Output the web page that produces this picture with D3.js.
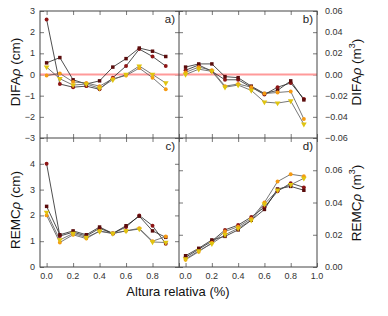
<!DOCTYPE html>
<html>
<head>
<meta charset="UTF-8">
<title></title>
<script src="https://cdn.jsdelivr.net/npm/d3@7"></script>
<style>
    body{margin:0;background:#fff;}
    text{font-family:"Liberation Sans",Arial,sans-serif;}
</style>
</head>
<body>
<div id="chart"></div>
<script>
    // altura relativa
    var alturas=[0,0.1,0.2,0.3,0.4,0.5,0.6,0.7,0.8,0.9];
    var colores=['#8e1616','#5a0c0c','#f59a12','#e0c410'];

    // a) DIFA (cm)
    var difaCm=[
        [2.6,-0.45,-0.6,-0.55,-0.7,-0.15,0.4,1.2,0.85,0.4],
        [0.55,0.8,-0.25,-0.45,-0.3,0.35,0.75,1.25,1.1,0.85],
        [-0.05,0.05,-0.35,-0.4,-0.55,-0.2,-0.05,0.3,-0.15,-0.7],
        [0.35,-0.2,-0.5,-0.45,-0.65,-0.25,0.0,0.4,0.0,-0.4]
    ];
    // b) DIFA (m3)
    var difaM3=[
        [0.004,0.009,0.003,-0.005,-0.005,-0.012,-0.019,-0.012,-0.008,-0.023],
        [0.007,0.010,0.010,-0.002,-0.003,-0.011,-0.018,-0.015,-0.006,-0.024],
        [0.002,0.007,0.004,-0.011,-0.009,-0.012,-0.018,-0.017,-0.016,-0.042],
        [0.0,0.005,0.003,-0.012,-0.010,-0.015,-0.026,-0.027,-0.025,-0.047]
    ];
    // c) REMC (cm)
    var remcCm=[
        [4.0,1.2,1.35,1.2,1.5,1.3,1.55,2.0,1.6,0.9],
        [2.35,1.25,1.4,1.25,1.55,1.3,1.6,1.97,1.4,1.15],
        [2.0,0.95,1.25,1.1,1.4,1.3,1.4,1.5,1.0,1.18],
        [2.12,1.05,1.3,1.15,1.38,1.3,1.4,1.47,0.97,0.95]
    ];
    // d) REMC (m3)
    var remcM3=[
        [0.006,0.011,0.016,0.023,0.026,0.031,0.037,0.047,0.052,0.0494],
        [0.007,0.0116,0.0168,0.019,0.023,0.029,0.0357,0.0484,0.050,0.0476],
        [0.0045,0.0095,0.015,0.022,0.025,0.030,0.040,0.053,0.0575,0.0563],
        [0.005,0.010,0.0145,0.020,0.024,0.029,0.039,0.0476,0.051,0.055]
    ];

    var yTicksA=[-3,-2,-1,0,1,2,3];
    var yTicksB=[-0.06,-0.04,-0.02,0,0.02,0.04,0.06];
    var yTicksC=[0,1,2,3,4];
    var yTicksD=[0,0.02,0.04,0.06];
    var xTicksIzq=[0,0.2,0.4,0.6,0.8];
    var xTicksDer=[0,0.2,0.4,0.6,0.8,1.0];

    var svg=d3.select('#chart').append('svg')
            .attr('width',388).attr('height',316);

    var colX=[[40,179],[179,317]];
    var filaY=[[11,138],[138,267]];

    var paneles=[
        {datos:difaCm,dom:[-3,3],ticks:yTicksA,fmt:d3.format('d'),col:0,fila:0,lado:'izq',etiqueta:'a)',cero:true},
        {datos:difaM3,dom:[-0.06,0.06],ticks:yTicksB,fmt:d3.format('.2f'),col:1,fila:0,lado:'der',etiqueta:'b)',cero:true},
        {datos:remcCm,dom:[0,5],ticks:yTicksC,fmt:d3.format('d'),col:0,fila:1,lado:'izq',etiqueta:'c)',cero:false},
        {datos:remcM3,dom:[0,0.08],ticks:yTicksD,fmt:d3.format('.2f'),col:1,fila:1,lado:'der',etiqueta:'d)',cero:false}
    ];

    paneles.forEach(function(p){
        var x0=colX[p.col][0],x1=colX[p.col][1];
        var y0=filaY[p.fila][0],y1=filaY[p.fila][1];
        var x=d3.scaleLinear().domain([-0.05,1.0]).range([x0,x1]);
        var y=d3.scaleLinear().domain(p.dom).range([y1,y0]);
        var g=svg.append('g');

        // ticks hacia dentro en los cuatro lados
        var tx=p.col==0?xTicksIzq.concat([1.0]):xTicksDer;
        var ejeL=d3.axisLeft(y).tickValues(p.ticks).tickSize(-4).tickFormat('');
        var ejeR=d3.axisRight(y).tickValues(p.ticks).tickSize(-4).tickFormat('');
        var ejeT=d3.axisTop(x).tickValues(tx).tickSize(-4).tickFormat('');
        var ejeB=d3.axisBottom(x).tickValues(tx).tickSize(-4).tickFormat('');
        g.append('g').attr('transform','translate('+x0+',0)').call(ejeL);
        g.append('g').attr('transform','translate('+x1+',0)').call(ejeR);
        g.append('g').attr('transform','translate(0,'+y0+')').call(ejeT);
        g.append('g').attr('transform','translate(0,'+y1+')').call(ejeB);
        g.selectAll('.domain').remove();
        g.selectAll('.tick line').attr('stroke','#555').attr('stroke-width',0.8);

        // etiquetas del eje y
        var lab=g.append('g').attr('font-size',9).attr('fill','#333');
        lab.selectAll('text').data(p.ticks).enter().append('text')
                .attr('x',p.lado=='izq'?x0-5:x1+8)
                .attr('y',function(d){return y(d)+3;})
                .attr('text-anchor',p.lado=='izq'?'end':'start')
                .text(function(d){return p.fmt(d);});

        // etiquetas del eje x (solo fila inferior)
        if(p.fila==1){
            var xt=p.col==0?xTicksIzq:xTicksDer;
            lab.selectAll('text.xt').data(xt).enter().append('text')
                    .attr('class','xt')
                    .attr('x',function(d){return x(d);})
                    .attr('y',y1+12)
                    .attr('text-anchor','middle')
                    .text(function(d){return d3.format('.1f')(d);});
        }

        if(p.cero){
            g.append('line')
                    .attr('x1',x0).attr('x2',x1)
                    .attr('y1',y(0)).attr('y2',y(0))
                    .attr('stroke','#ff9a9a').attr('stroke-width',2);
        }

        var linea=d3.line()
                .x(function(d,i){return x(alturas[i]);})
                .y(function(d){return y(d);});

        p.datos.forEach(function(serie,k){
            g.append('path')
                    .attr('d',linea(serie))
                    .attr('fill','none')
                    .attr('stroke',k>=2?'#555':'#222')
                    .attr('stroke-width',0.8);
        });
        var simbolos=[d3.symbolCircle,d3.symbolSquare,d3.symbolCircle,d3.symbolTriangle];
        p.datos.forEach(function(serie,k){
            g.selectAll('path.m'+k).data(serie).enter().append('path')
                    .attr('class','m'+k)
                    .attr('d',d3.symbol().type(simbolos[k]).size(k==3?14:12))
                    .attr('transform',function(d,i){
                        return 'translate('+x(alturas[i])+','+y(d)+')'+(k==3?' rotate(180)':'');
                    })
                    .attr('fill',colores[k]);
        });

        g.append('text')
                .attr('x',x1-4).attr('y',y0+12)
                .attr('text-anchor','end')
                .attr('font-size',11.5)
                .attr('fill','#222')
                .text(p.etiqueta);
    });

    // marco
    svg.append('rect').attr('x',40).attr('y',11).attr('width',277).attr('height',256)
            .attr('fill','none').attr('stroke','#444').attr('stroke-width',1);
    svg.append('line').attr('x1',179).attr('x2',179).attr('y1',11).attr('y2',267)
            .attr('stroke','#444').attr('stroke-width',1);
    svg.append('line').attr('x1',40).attr('x2',317).attr('y1',138).attr('y2',138)
            .attr('stroke','#444').attr('stroke-width',1);

    // titulos
    function titulo(cx,cy,nombre,unidad,sup){
        var t=svg.append('text')
                .attr('transform','translate('+cx+','+cy+') rotate(-90)')
                .attr('text-anchor','middle')
                .attr('font-size',13.5)
                .attr('fill','#111');
        t.append('tspan').text(nombre);
        t.append('tspan').attr('font-style','italic').text('ρ');
        t.append('tspan').text(' ('+unidad);
        if(sup){
            t.append('tspan').attr('font-size',9).attr('dy',-6).text('3');
            t.append('tspan').attr('dy',6).text(')');
        }else{
            t.append('tspan').text(')');
        }
    }
    titulo(20,72,'DIFA','cm',false);
    titulo(20,210,'REMC','cm',false);
    titulo(361,72,'DIFA','m',true);
    titulo(361,203,'REMC','m',true);

    svg.append('text')
            .attr('x',178).attr('y',296)
            .attr('text-anchor','middle')
            .attr('font-size',13)
            .attr('fill','#111')
            .text('Altura relativa (%)');
</script>
</body>
</html>
